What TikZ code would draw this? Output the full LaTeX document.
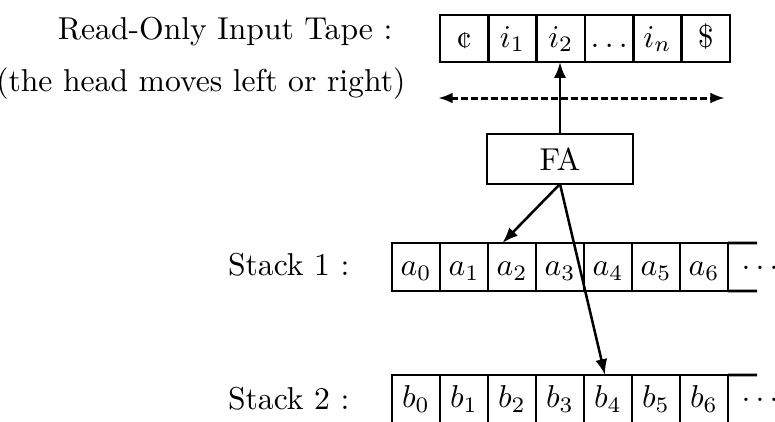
\documentclass[tikz,border=0pt]{standalone}
\usetikzlibrary{arrows.meta,calc}
\begin{document}
\begin{tikzpicture}[x=0.316pt,y=-0.316pt,
  cellbox/.style={draw, line width=0.9pt, inner sep=0pt, outer sep=0pt,
    minimum width=15.17pt, minimum height=15.17pt, text height=1.5ex, text depth=.25ex},
  tapecell/.style={cellbox, minimum width=15.27pt, minimum height=14.85pt},
  fabox/.style={draw, line width=0.9pt, inner sep=0pt, outer sep=0pt,
    minimum width=46.1pt, minimum height=15.8pt},
  conn/.style={line width=0.8pt, -{Latex[length=5pt,width=3.8pt]}},
  moves/.style={line width=0.95pt, dash pattern=on 2.2pt off 0.95pt,
    {Latex[length=4.6pt,width=3.4pt]}-{Latex[length=4.6pt,width=3.4pt]}},
  lbl/.style={inner sep=0pt, anchor=base east}]
\useasboundingbox (0,0) rectangle (775,421);
\clip (0,0) rectangle (775,421);

% labels on the left
\node[lbl] (ltape) at (393,39) {Read-Only Input Tape :};
\node[lbl] (lhead) at (406,91) {(the head moves left or right)};
\node[lbl] (ls1) at (350,275) {Stack 1 :};
\node[lbl] (ls2) at (350,409) {Stack 2 :};

% read-only input tape
\node[tapecell] (t0) at (464.2,38.5) {\textcent};
\node[tapecell] (t1) at (512.5,38.5) {$i_1$};
\node[tapecell] (t2) at (560.8,38.5) {$i_2$};
\node[tapecell] (t3) at (609.2,38.5) {$\ldots$};
\node[tapecell] (t4) at (657.5,38.5) {$i_n$};
\node[tapecell] (t5) at (705.8,38.5) {\$};

% head movement
\coordinate (hl) at (438,98);
\coordinate (hr) at (725,98);
\draw[moves] (hl) -- (hr);

% finite automaton
\node[fabox] (fa) at (560,159) {FA};
\draw[conn] (fa.north) -- (fa.north |- t2.south);

% stack 1
\foreach \k in {0,...,6}
  \node[cellbox] (a\k) at ({416+48*\k},267) {$a_{\k}$};
\coordinate (a7t) at (757,243);
\coordinate (a7b) at (757,291);
\draw[line width=0.9pt] (a6.north east) -- (a7t) (a6.south east) -- (a7b);
\node (adots) at (760,268) {$\ldots$};

% stack 2 (continues below the frame)
\foreach \k in {0,...,6}
  \node[cellbox] (b\k) at ({416+48*\k},399) {$b_{\k}$};
\coordinate (b7t) at (757,375);
\draw[line width=0.9pt] (b6.north east) -- (b7t);
\node (bdots) at (760,400) {$\ldots$};

% FA drives both stacks
\draw[conn] (fa.south) -- ($(a2.north west)!0.3!(a2.north east)$);
\draw[conn] (fa.south) -- ($(b4.north)+(-3,0)$);
\end{tikzpicture}
\end{document}
